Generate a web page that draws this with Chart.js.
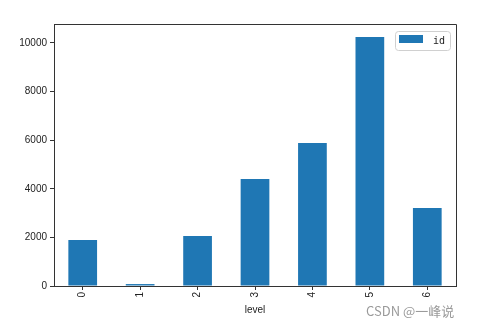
<!DOCTYPE html>
<html>
<head>
<meta charset="utf-8">
<script src="https://cdn.jsdelivr.net/npm/chart.js@4"></script>
<style>
  body { margin: 0; background: #fff; }
  .wrap { position: relative; width: 481px; height: 328px; }
  .marca { position: absolute; left: 366px; top: 301px; font: 13px "Noto Sans CJK SC", "DejaVu Sans", sans-serif; color: #9a9a9a; }
</style>
</head>
<body>
<div class="wrap">
  <canvas id="grafico" width="481" height="328"></canvas>
  <div class="marca">CSDN @一峰说</div>
</div>
<script>
// dados
const niveis = ['0', '1', '2', '3', '4', '5', '6'];
const valoresId = [1890, 80, 2060, 4400, 5880, 10250, 3210];
const ticksY = [0, 2000, 4000, 6000, 8000, 10000];

const azul = '#1f77b4';
const fonte = { family: 'Liberation Sans, Arial, sans-serif', size: 10 };

// legenda dentro da area do grafico + moldura em cima/direita
const molduraLegenda = {
  id: 'molduraLegenda',
  afterDraw(chart) {
    const ctx = chart.ctx;
    const a = chart.chartArea;
    ctx.save();
    ctx.strokeStyle = '#333';
    ctx.lineWidth = 1;
    ctx.beginPath();
    ctx.moveTo(a.left, a.top + 0.5);
    ctx.lineTo(a.right + 0.5, a.top + 0.5);
    ctx.lineTo(a.right + 0.5, a.bottom);
    ctx.stroke();

    // caixa da legenda
    const x = a.right - 61, y = a.top + 7, w = 55, h = 19;
    ctx.strokeStyle = '#d0d0d0';
    ctx.fillStyle = 'rgba(255,255,255,0.8)';
    ctx.beginPath();
    ctx.roundRect(x + 0.5, y + 0.5, w, h, 3);
    ctx.fill();
    ctx.stroke();
    ctx.fillStyle = azul;
    ctx.fillRect(x + 4, y + 4, 24, 8);
    ctx.fillStyle = '#222';
    ctx.font = '10px "DejaVu Sans Mono", monospace';
    ctx.textBaseline = 'middle';
    ctx.fillText(chart.data.datasets[0].label, x + 38, y + 10);
    ctx.restore();
  }
};

new Chart(document.getElementById('grafico'), {
  type: 'bar',
  data: {
    labels: niveis,
    datasets: [{
      label: 'id',
      data: valoresId,
      backgroundColor: azul,
      borderWidth: 0,
      categoryPercentage: 1,
      barPercentage: 0.5
    }]
  },
  options: {
    responsive: false,
    animation: false,
    layout: { padding: { top: 24, right: 25, bottom: 12, left: 0 } },
    plugins: {
      legend: { display: false },
      tooltip: { enabled: false }
    },
    scales: {
      x: {
        offset: true,
        grid: { offset: false, drawOnChartArea: false, drawTicks: true, tickLength: 4, color: '#333' },
        border: { display: true, color: '#333' },
        ticks: { color: '#222', font: fonte, minRotation: 90, maxRotation: 90, padding: 2 },
        title: { display: true, text: 'level', color: '#222', font: fonte, padding: 0 },
        afterFit(scale) { scale.height = 30; }
      },
      y: {
        min: 0,
        max: 10780,
        afterBuildTicks(scale) { scale.ticks = ticksY.map(v => ({ value: v })); },
        grid: { drawOnChartArea: false, drawTicks: true, tickLength: 4, color: '#333' },
        border: { display: true, color: '#333' },
        ticks: { color: '#222', font: fonte, padding: 3, callback: v => String(v) },
        afterFit(scale) { scale.width = 54; }
      }
    }
  },
  plugins: [molduraLegenda]
});
</script>
</body>
</html>
